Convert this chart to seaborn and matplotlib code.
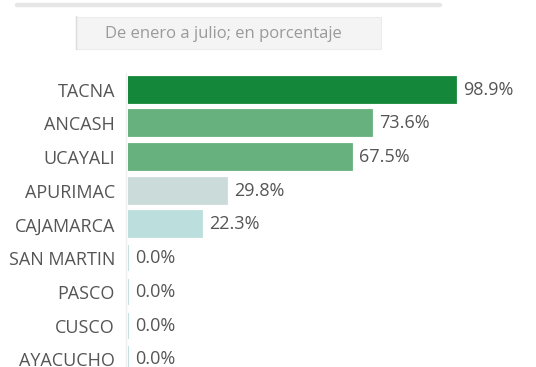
import matplotlib
matplotlib.use("Agg")
import matplotlib.pyplot as plt
import seaborn as sns
import pandas as pd
from matplotlib.patches import Rectangle
from matplotlib.lines import Line2D

regiones = ["TACNA", "ANCASH", "UCAYALI", "APURIMAC", "CAJAMARCA",
            "SAN MARTIN", "PASCO", "CUSCO", "AYACUCHO"]
porcentajes = [98.9, 73.6, 67.5, 29.8, 22.3, 0.0, 0.0, 0.0, 0.0]
colores = ["#15873a", "#66b17e", "#66b17e", "#cbdbda", "#bcdedd",
           "#bcdedd", "#bcdedd", "#bcdedd", "#bcdedd"]
subtitulo = "De enero a julio; en porcentaje"

sns.set_theme(style="white")
plt.rcParams["font.family"] = ["Open Sans", "DejaVu Sans"]

df = pd.DataFrame({"region": regiones, "pct": porcentajes})

fig = plt.figure(figsize=(5.36, 3.67), dpi=100)
W, H = 536, 367
ax = fig.add_axes([128.3 / W, -9.1 / H, 397.3 / W, 303.3 / H])

sns.barplot(data=df, x="pct", y="region", hue="region",
            palette=dict(zip(regiones, colores)), order=regiones,
            hue_order=regiones, dodge=False, legend=False,
            width=0.77, ax=ax, saturation=1)

for bar, c in zip(ax.patches, colores):
    bar.set_edgecolor(c)
    bar.set_linewidth(1.3)
    bar.set_zorder(3)

for cont in ax.containers:
    ax.bar_label(cont, fmt="%.1f%%", padding=5, fontsize=13,
                 color="#555555")

ax.set_xlim(0, 120)
ax.set_ylim(8.5, -0.5)
ax.set_xlabel("")
ax.set_ylabel("")
ax.set_xticks([])
ax.tick_params(axis="y", length=0, pad=8, labelsize=13, labelcolor="#555555")
for s in ["top", "right", "bottom"]:
    ax.spines[s].set_visible(False)
ax.spines["left"].set_color("#efefef")
ax.spines["left"].set_linewidth(1.0)
ax.spines["left"].set_position(("outward", 1.5))

# header: grey rule and subtitle box
fig.add_artist(Line2D([17 / W, 440 / W], [1 - 4.5 / H, 1 - 4.5 / H],
                      color="#e6e6e6", linewidth=3.2))
fig.add_artist(Rectangle((76 / W, 1 - 49 / H), 305 / W, 32 / H,
                         facecolor="#f4f4f4", edgecolor="#ececec",
                         linewidth=0.8, transform=fig.transFigure))
fig.add_artist(Line2D([75.5 / W, 75.5 / W], [1 - 49 / H, 1 - 16 / H],
                      color="#dcdcdc", linewidth=1.0))
fig.text(223 / W, 1 - 34 / H, subtitulo, ha="center", va="center",
         fontsize=12, color="#9a9a9a")

fig.savefig("out.png", dpi=100)
